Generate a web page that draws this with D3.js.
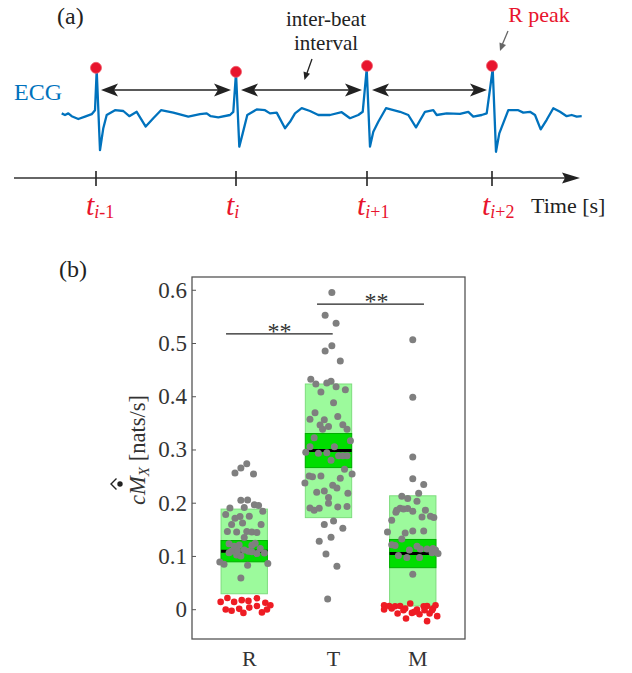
<!DOCTYPE html>
<html>
<head>
<meta charset="utf-8">
<script src="https://cdn.jsdelivr.net/npm/d3@7"></script>
<style>
  body { margin: 0; background: #fff; }
  svg { font-family: "Liberation Serif", "Times New Roman", serif; }
</style>
</head>
<body>
<div id="chart"></div>
<script>
// ---------- panel (a): ECG sketch ----------
const ecgTime = [0.477, 0.51, 0.543, 0.577, 0.643, 0.71, 0.777, 0.81, 0.827, 0.86, 0.893, 0.927, 1.01, 1.093, 1.153,
  1.227, 1.317, 1.393, 1.47, 1.593, 1.743, 1.86, 1.927, 1.967, 2.043, 2.16, 2.193, 2.22, 2.253, 2.287, 2.333,
  2.427, 2.51, 2.56, 2.627, 2.71, 2.76, 2.81, 2.877, 2.96, 3.043, 3.16, 3.277, 3.36, 3.443, 3.487, 3.527, 3.56,
  3.593, 3.643, 3.72, 3.86, 3.943, 4.02, 4.11, 4.193, 4.227, 4.327, 4.46, 4.543, 4.593, 4.677, 4.727, 4.787,
  4.82, 4.853, 4.943, 5.043, 5.093, 5.16, 5.21, 5.267, 5.327, 5.393, 5.46, 5.527, 5.577, 5.627, 5.677];
const ecgValue = [0.04, 0, 0.04, -0.03, -0.1, -0.04, 0.02, 0.12, 1.12, -0.88, -0.33, 0, 0.12, 0.1, -0.03,
  0.08, -0.29, -0.08, 0.12, 0.06, -0.04, 0.02, 0.04, -0.03, -0.06, 0, 0.08, 1.05, -0.79, -0.46, 0,
  0.14, 0.12, 0.04, 0.06, -0.33, -0.17, 0.04, 0.17, 0.1, 0, 0, 0.07, -0.08, 0, 0.08, 1.15, -0.79,
  -0.42, -0.17, 0.17, 0.08, 0, -0.31, 0.08, 0.12, 0, 0.04, 0.03, 0.08, -0.04, 0, 0.04, 1.15,
  -0.92, -0.46, 0.12, 0.12, 0.06, 0.08, 0, -0.36, -0.12, 0.17, 0.08, -0.03, 0, -0.04, -0.03];
const peakTime = [0.82, 2.22, 3.53, 4.78];
const peakValue = [1.18, 1.08, 1.23, 1.23];
const peakSubscripts = ["-1", "", "+1", "+2"];

// ---------- panel (b): box plot ----------
const categories = ["R", "T", "M"];
const boxLow = [0.029, 0.172, 0.006];
const boxHigh = [0.188, 0.423, 0.213];
const ciLow = [0.089, 0.266, 0.078];
const ciHigh = [0.129, 0.330, 0.131];
const medians = [0.109, 0.298, 0.1045];
const yTicks = [0, 0.1, 0.2, 0.3, 0.4, 0.5, 0.6];

// points: [x jitter from category centre, value]
const rGray = [[-0.11, 0.256], [-0.04, 0.265], [0.03, 0.273], [0.11, 0.254], [-0.04, 0.2045], [0.04, 0.205],
  [0.12, 0.196], [0.17, 0.195], [-0.17, 0.19], [0.0, 0.191], [0.22, 0.184], [-0.22, 0.178], [-0.05, 0.174],
  [-0.11, 0.171], [0.06, 0.1745], [-0.02, 0.162], [-0.15, 0.159], [0.20, 0.159], [-0.20, 0.146], [-0.09, 0.145],
  [0.03, 0.146], [0.09, 0.145], [0.15, 0.144], [0.0, 0.1345], [-0.18, 0.123], [-0.06, 0.1206], [0.13, 0.124],
  [0.19, 0.114], [-0.15, 0.109], [-0.18, 0.106], [0.0, 0.111], [0.05, 0.109], [0.09, 0.108], [0.15, 0.1045],
  [0.24, 0.1056], [-0.09, 0.102], [-0.04, 0.100], [-0.29, 0.0888], [-0.24, 0.0844], [0.04, 0.0826],
  [0.28, 0.0857], [-0.04, 0.0588], [-0.12, 0.118], [0.09, 0.12], [-0.08, 0.11]];
const rRed = [[-0.28, 0.0137], [-0.20, 0.021], [-0.12, 0.0137], [-0.03, 0.017], [0.05, 0.0156], [0.15, 0.0206],
  [0.25, 0.012], [0.31, 0.0075], [-0.22, -0.0006], [-0.15, -0.003], [-0.06, 0.0006], [-0.01, -0.007],
  [0.06, 0.003], [0.15, 0.006], [0.21, -0.006], [0.27, -0.0006]];
const tGray = [[0.04, 0.595], [-0.04, 0.552], [0.09, 0.537], [0.04, 0.495], [-0.04, 0.485], [0.14, 0.466],
  [-0.21, 0.432], [-0.15, 0.423], [-0.02, 0.425], [0.03, 0.428], [0.09, 0.418], [0.20, 0.412], [-0.09, 0.408],
  [0.06, 0.388], [-0.16, 0.369], [-0.22, 0.357], [-0.05, 0.356], [0.11, 0.362], [-0.10, 0.346], [-0.07, 0.338],
  [0.0, 0.343], [0.17, 0.3465], [0.22, 0.338], [-0.17, 0.322], [0.26, 0.3165], [-0.22, 0.305], [0.07, 0.305],
  [-0.27, 0.295], [-0.12, 0.293], [-0.02, 0.294], [0.12, 0.288], [0.17, 0.288], [0.22, 0.288], [0.03, 0.28],
  [0.19, 0.263], [-0.23, 0.25], [-0.19, 0.249], [-0.09, 0.25], [0.14, 0.246], [0.28, 0.254], [-0.28, 0.237],
  [0.05, 0.2326], [0.10, 0.2276], [-0.14, 0.2195], [-0.05, 0.222], [0.23, 0.2176], [0.0, 0.21], [0.0, 0.199],
  [-0.22, 0.19], [-0.17, 0.186], [-0.11, 0.1895], [0.11, 0.192], [0.22, 0.193], [0.06, 0.1657], [-0.05, 0.159],
  [0.17, 0.152], [0.03, 0.135], [-0.11, 0.1276], [-0.03, 0.1038], [0.10, 0.0807], [-0.01, 0.0193]];
const mGray = [[0.0, 0.506], [0.0, 0.398], [0.0, 0.286], [0.0, 0.245], [0.13, 0.234], [0.07, 0.218],
  [-0.13, 0.212], [-0.06, 0.2077], [0.05, 0.2026], [-0.15, 0.1895], [-0.11, 0.188], [-0.06, 0.189],
  [-0.19, 0.186], [0.0, 0.184], [0.15, 0.186], [-0.20, 0.182], [0.11, 0.173], [0.21, 0.1745], [0.25, 0.172],
  [-0.25, 0.167], [-0.30, 0.145], [-0.09, 0.143], [0.0, 0.147], [0.13, 0.147], [-0.13, 0.132], [-0.25, 0.121],
  [-0.21, 0.1195], [0.05, 0.118], [0.09, 0.113], [-0.04, 0.111], [0.17, 0.113], [0.24, 0.114], [0.27, 0.111],
  [0.23, 0.106], [0.30, 0.1045], [-0.17, 0.101], [-0.07, 0.097], [0.08, 0.097], [0.0, 0.0657]];
const mRed = [[-0.34, 0.0075], [-0.34, -0.0006], [-0.28, 0.006], [-0.25, 0.0013], [-0.21, 0.0056], [-0.15, 0.006],
  [-0.18, -0.008], [-0.09, 0.0013], [-0.11, -0.0019], [-0.03, 0.0107], [-0.01, -0.007], [0.05, -0.0006],
  [0.02, -0.005], [0.08, -0.0094], [0.13, 0.0056], [0.17, 0.006], [0.14, -0.0019], [0.20, -0.008],
  [0.24, 0.0013], [0.27, 0.0075], [0.29, -0.0131], [-0.08, -0.0174], [0.17, -0.0225], [0.23, -0.0019]];
const grayPoints = [rGray, tGray, mGray];
const redPoints = [rRed, [], mRed];

const sigFrom = [0.784, 1.864];
const sigTo = [2.05, 3.133];
const sigLevel = [0.517, 0.573];
const sigText = ["**", "**"];

// ---------- drawing ----------
const W = 632, H = 673;
const red = "#e8142d", ecgBlue = "#0072bd", ink = "#333";

const svg = d3.select("#chart").append("svg")
  .attr("width", W).attr("height", H);

// ===== panel (a) =====
const xt = d3.scaleLinear().domain([0, 5.66]).range([14, 580]);
const ye = d3.scaleLinear().domain([-1, 1]).range([155, 75]);
const axisY = 178;

const pa = svg.append("g");

pa.append("text").attr("x", 57).attr("y", 24).attr("font-size", 24).attr("fill", "#222").text("(a)");
pa.append("text").attr("x", 14).attr("y", 100).attr("font-size", 24).attr("fill", ecgBlue).text("ECG");

pa.append("path")
  .datum(ecgTime.map((t, i) => [t, ecgValue[i]]))
  .attr("fill", "none").attr("stroke", ecgBlue).attr("stroke-width", 2.3)
  .attr("stroke-linejoin", "round")
  .attr("d", d3.line().x(d => xt(d[0])).y(d => ye(d[1])));

function head(g, tipX, tipY, dir, len, half, notch, color) {
  // dir: +1 points right, -1 points left
  const p = d3.path();
  p.moveTo(tipX, tipY);
  p.lineTo(tipX - dir * len, tipY - half);
  p.lineTo(tipX - dir * (len - notch), tipY);
  p.lineTo(tipX - dir * len, tipY + half);
  p.closePath();
  g.append("path").attr("d", p.toString()).attr("fill", color);
}

// double arrows between successive R peaks
const arrowY = ye(0.625);
for (let i = 0; i < peakTime.length - 1; i++) {
  const x1 = xt(peakTime[i]) + 5, x2 = xt(peakTime[i + 1]) - 5;
  pa.append("line").attr("x1", x1 + 10).attr("x2", x2 - 10).attr("y1", arrowY).attr("y2", arrowY)
    .attr("stroke", "#222").attr("stroke-width", 1.4);
  head(pa, x1, arrowY, -1, 17, 6.5, 4, "#222");
  head(pa, x2, arrowY, 1, 17, 6.5, 4, "#222");
}

// R peak markers
pa.selectAll("circle.peak").data(peakTime).join("circle")
  .attr("class", "peak")
  .attr("cx", d => xt(d)).attr("cy", (d, i) => ye(peakValue[i]))
  .attr("r", 5.5).attr("fill", red).attr("stroke", "#f05a6a").attr("stroke-width", 0.8);

// time axis
pa.append("line").attr("x1", xt(0)).attr("x2", xt(5.66) - 12).attr("y1", axisY).attr("y2", axisY)
  .attr("stroke", ink).attr("stroke-width", 1.3);
head(pa, xt(5.66), axisY, 1, 18, 5.5, 3, "#222");

pa.selectAll("line.tick").data(peakTime).join("line")
  .attr("class", "tick")
  .attr("x1", d => xt(d)).attr("x2", d => xt(d))
  .attr("y1", axisY - 7).attr("y2", axisY + 8)
  .attr("stroke", "#222").attr("stroke-width", 1.6);

const tl = pa.selectAll("text.tlab").data(peakTime).join("text")
  .attr("class", "tlab")
  .attr("x", d => xt(d) - 10).attr("y", 215)
  .attr("fill", red);
tl.append("tspan").attr("font-size", 30).attr("font-style", "italic").text("t");
tl.append("tspan").attr("font-size", 18).attr("dy", 3).attr("font-style", "italic").text("i");
tl.append("tspan").attr("font-size", 18).text((d, i) => peakSubscripts[i]);

pa.append("text").attr("x", 531).attr("y", 213).attr("font-size", 22).attr("fill", "#222").text("Time [s]");

// annotations
pa.append("text").attr("x", 326).attr("y", 26).attr("font-size", 21).attr("text-anchor", "middle")
  .attr("fill", "#222").text("inter-beat");
pa.append("text").attr("x", 326).attr("y", 50).attr("font-size", 21).attr("text-anchor", "middle")
  .attr("fill", "#222").text("interval");
pa.append("line").attr("x1", 312).attr("y1", 59).attr("x2", 307).attr("y2", 73)
  .attr("stroke", "#222").attr("stroke-width", 1.3);
pa.append("path").attr("d", "M304.5,80 L303.5,71.5 L310,73.8 Z").attr("fill", "#222");

pa.append("text").attr("x", 539).attr("y", 22).attr("font-size", 22).attr("text-anchor", "middle")
  .attr("fill", red).text("R peak");
pa.append("line").attr("x1", 508).attr("y1", 31).attr("x2", 502.5).attr("y2", 44)
  .attr("stroke", "#666").attr("stroke-width", 1.3);
pa.append("path").attr("d", "M500,51 L499.5,42.5 L506,45 Z").attr("fill", "#666");

// ===== panel (b) =====
const x = d3.scaleLinear().domain([0.38, 3.62]).range([192, 465]);
const y = d3.scaleLinear().domain([-0.056, 0.624]).range([639, 277]);
const halfW = 0.275;

const pb = svg.append("g");
pb.append("text").attr("x", 59).attr("y", 277).attr("font-size", 24).attr("fill", "#222").text("(b)");

// boxes
categories.forEach((c, i) => {
  const cx = i + 1;
  pb.append("rect")
    .attr("x", x(cx - halfW)).attr("width", x(cx + halfW) - x(cx - halfW))
    .attr("y", y(boxHigh[i])).attr("height", y(boxLow[i]) - y(boxHigh[i]))
    .attr("fill", "#9cfa9c").attr("stroke", "#7edc7e").attr("stroke-width", 1);
  pb.append("rect")
    .attr("x", x(cx - halfW)).attr("width", x(cx + halfW) - x(cx - halfW))
    .attr("y", y(ciHigh[i])).attr("height", y(ciLow[i]) - y(ciHigh[i]))
    .attr("fill", "#00dd00").attr("stroke", "#00b000").attr("stroke-width", 1);
  pb.append("line")
    .attr("x1", x(cx - halfW)).attr("x2", x(cx + halfW))
    .attr("y1", y(medians[i])).attr("y2", y(medians[i]))
    .attr("stroke", "#000").attr("stroke-width", 3);
});

// points
categories.forEach((c, i) => {
  const cx = i + 1;
  pb.selectAll(null).data(grayPoints[i]).join("circle")
    .attr("cx", d => x(cx + d[0])).attr("cy", d => y(d[1]))
    .attr("r", 3.5).attr("fill", "#7f7f7f");
  pb.selectAll(null).data(redPoints[i]).join("circle")
    .attr("cx", d => x(cx + d[0])).attr("cy", d => y(d[1]))
    .attr("r", 3.3).attr("fill", "#ee1c24");
});

// significance bars
sigLevel.forEach((lv, i) => {
  pb.append("line")
    .attr("x1", x(sigFrom[i])).attr("x2", x(sigTo[i]))
    .attr("y1", y(lv)).attr("y2", y(lv))
    .attr("stroke", "#222").attr("stroke-width", 1.3);
  pb.append("text")
    .attr("x", (x(sigFrom[i]) + x(sigTo[i])) / 2 + (i === 1 ? 6 : 0))
    .attr("y", y(lv) + 5).attr("text-anchor", "middle")
    .attr("font-size", 24).attr("fill", "#333").text(sigText[i]);
});

// frame
pb.append("rect")
  .attr("x", x(0.38)).attr("y", y(0.624))
  .attr("width", x(3.62) - x(0.38)).attr("height", y(-0.056) - y(0.624))
  .attr("fill", "none").attr("stroke", "#555").attr("stroke-width", 1.3);

// y axis
const yAxis = pb.append("g").attr("transform", `translate(${x(0.38)},0)`)
  .call(d3.axisLeft(y).tickValues(yTicks).tickFormat(d3.format("~g"))
    .tickSizeInner(-4).tickSizeOuter(0).tickPadding(5));
yAxis.select(".domain").remove();
yAxis.selectAll("line").attr("stroke", "#555");
yAxis.selectAll("text").attr("font-size", 23).attr("fill", "#333")
  .attr("font-family", "Liberation Serif, serif");

// x labels
pb.selectAll("text.cat").data(categories).join("text")
  .attr("class", "cat")
  .attr("x", (d, i) => x(i + 1) + 5).attr("y", 666)
  .attr("text-anchor", "middle").attr("font-size", 22).attr("fill", "#333").text(d => d);

// y label
const yl = pb.append("g").attr("transform", "translate(145,450) rotate(-90)");
const ylt = yl.append("text").attr("text-anchor", "middle").attr("font-size", 22.5).attr("fill", "#333");
ylt.append("tspan").attr("font-style", "italic").text("c");
ylt.append("tspan").attr("font-style", "italic").text("M");
ylt.append("tspan").attr("font-style", "italic").attr("font-size", 15).attr("dy", 4).text("X");
ylt.append("tspan").attr("dy", -4).text(" [nats/s]");
const n = ylt.node();
const mx = (n.getStartPositionOfChar(1).x + n.getEndPositionOfChar(1).x) / 2 + 1.5;
yl.append("circle").attr("cx", mx).attr("cy", -25).attr("r", 2.7).attr("fill", "#222");
yl.append("path").attr("d", `M${mx - 5.5},-28.5 L${mx},-34 L${mx + 5.5},-28.5`)
  .attr("fill", "none").attr("stroke", "#222").attr("stroke-width", 1.4);
</script>
</body>
</html>
